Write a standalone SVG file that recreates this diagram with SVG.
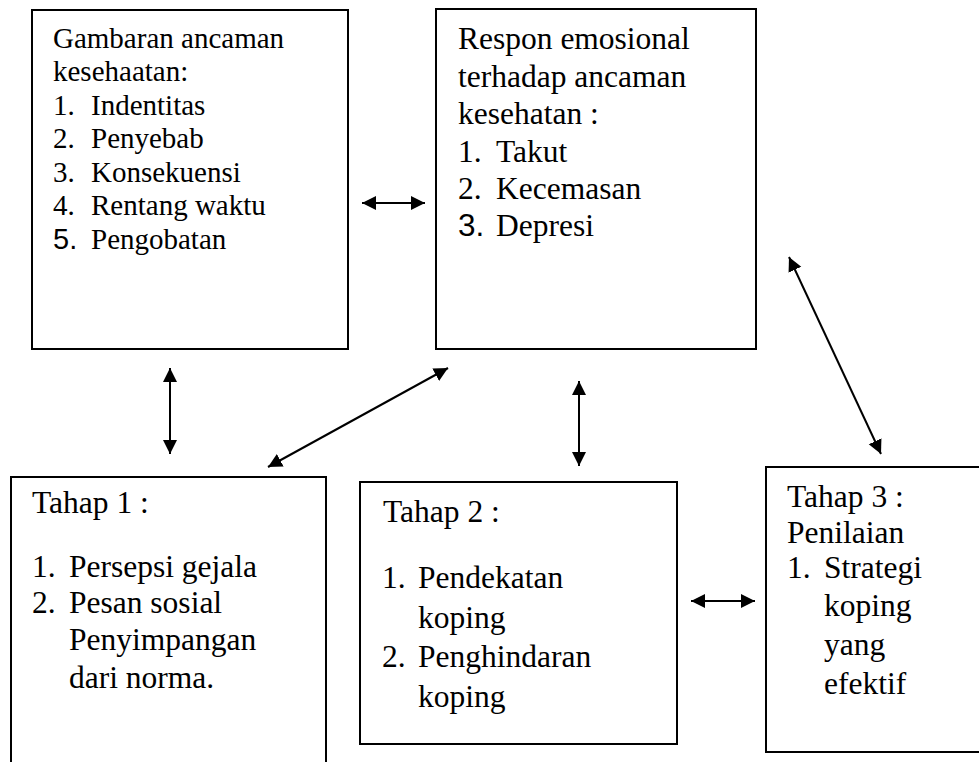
<svg xmlns="http://www.w3.org/2000/svg" width="979" height="762" viewBox="0 0 979 762">
<style>
.box{fill:#fff;stroke:#000;stroke-width:2}
.t{font-family:"Liberation Serif","Times New Roman",serif;font-size:31.5px;fill:#000}
.t1{font-family:"Liberation Serif","Times New Roman",serif;font-size:29px;fill:#000}
.sn{font-family:"Liberation Sans",Arial,sans-serif}
.c{fill:none;stroke:#000;stroke-width:2;marker-start:url(#ah);marker-end:url(#ah)}
</style>
<defs>
<marker id="ah" markerUnits="userSpaceOnUse" markerWidth="15" markerHeight="15" refX="14" refY="7.5" orient="auto-start-reverse">
<path d="M0,0.5 L14,7.5 L0,14.5 z" fill="#000"/>
</marker>
</defs>
<rect width="979" height="762" fill="#fff"/>
<g id="node-gambaran">
<rect class="box" x="32" y="10" width="316" height="339"/>
<text class="t1" x="53" y="48">Gambaran ancaman</text>
<text class="t1" x="53" y="81">kesehaatan:</text>
<text class="t1" x="53" y="115">1.</text><text class="t1" x="91" y="115">Indentitas</text>
<text class="t1" x="53" y="148">2.</text><text class="t1" x="91" y="148">Penyebab</text>
<text class="t1" x="53" y="182">3.</text><text class="t1" x="91" y="182">Konsekuensi</text>
<text class="t1" x="53" y="215">4.</text><text class="t1" x="91" y="215">Rentang waktu</text>
<text class="t1 sn" x="53" y="249" font-size="26">5.</text><text class="t1" x="91" y="249">Pengobatan</text>
</g>
<g id="node-respon">
<rect class="box" x="436" y="9" width="320" height="340"/>
<text class="t" x="458" y="49">Respon emosional</text>
<text class="t" x="458" y="87">terhadap ancaman</text>
<text class="t" x="458" y="124">kesehatan :</text>
<text class="t" x="458" y="162">1.</text><text class="t" x="496" y="162">Takut</text>
<text class="t" x="458" y="199">2.</text><text class="t" x="496" y="199">Kecemasan</text>
<text class="t sn" x="458" y="236" font-size="26">3.</text><text class="t" x="496" y="236">Depresi</text>
</g>
<g id="node-tahap1">
<rect class="box" x="11" y="477" width="315" height="300"/>
<text class="t" x="32" y="513">Tahap 1 :</text>
<text class="t" x="32" y="577">1.</text><text class="t" x="69" y="577">Persepsi gejala</text>
<text class="t" x="32" y="613">2.</text><text class="t" x="69" y="613">Pesan sosial</text>
<text class="t" x="69" y="650">Penyimpangan</text>
<text class="t" x="69" y="688">dari norma.</text>
</g>
<g id="node-tahap2">
<rect class="box" x="360" y="482" width="317" height="262"/>
<text class="t" x="383" y="522">Tahap 2 :</text>
<text class="t" x="382" y="588">1.</text><text class="t" x="418" y="588">Pendekatan</text>
<text class="t" x="418" y="628">koping</text>
<text class="t" x="382" y="667">2.</text><text class="t" x="418" y="667">Penghindaran</text>
<text class="t" x="418" y="707">koping</text>
</g>
<g id="node-tahap3">
<rect class="box" x="766" y="467" width="220" height="285"/>
<text class="t" x="787" y="507">Tahap 3 :</text>
<text class="t" x="787" y="543">Penilaian</text>
<text class="t" x="787" y="578">1.</text><text class="t" x="824" y="578">Strategi</text>
<text class="t" x="824" y="616">koping</text>
<text class="t" x="824" y="655">yang</text>
<text class="t" x="824" y="694">efektif</text>
</g>
<g id="connectors">
<path class="c" d="M362,203 L425,203"/>
<path class="c" d="M170,368 L170,454"/>
<path class="c" d="M268,467 L448,368"/>
<path class="c" d="M579,381 L579,466"/>
<path class="c" d="M691,601 L755,601"/>
<path class="c" d="M789,257 L881,454"/>
</g>
</svg>
